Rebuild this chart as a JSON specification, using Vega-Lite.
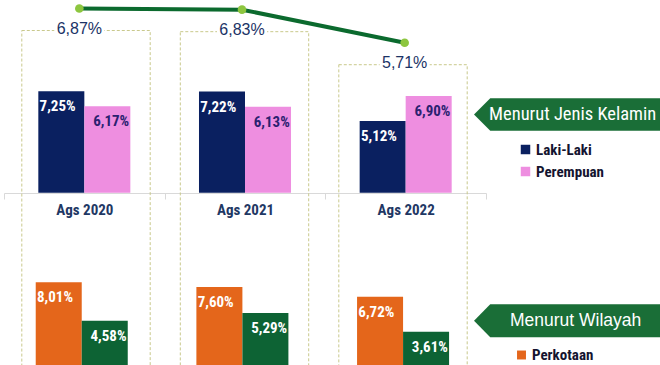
{
  "$schema": "https://vega.github.io/schema/vega-lite/v6.json",
  "width": 660,
  "height": 365,
  "autosize": {"type": "none"},
  "padding": 0,
  "background": "white",
  "config": {"view": {"stroke": null}, "font": "Liberation Sans"},
  "datasets": {
    "line": [
      {"year": "Ags 2020", "value": 6.87, "label": "6,87%"},
      {"year": "Ags 2021", "value": 6.83, "label": "6,83%"},
      {"year": "Ags 2022", "value": 5.71, "label": "5,71%"}
    ],
    "gender": [
      {"year": "Ags 2020", "sex": "Laki-Laki", "value": 7.25, "label": "7,25%"},
      {"year": "Ags 2020", "sex": "Perempuan", "value": 6.17, "label": "6,17%"},
      {"year": "Ags 2021", "sex": "Laki-Laki", "value": 7.22, "label": "7,22%"},
      {"year": "Ags 2021", "sex": "Perempuan", "value": 6.13, "label": "6,13%"},
      {"year": "Ags 2022", "sex": "Laki-Laki", "value": 5.12, "label": "5,12%"},
      {"year": "Ags 2022", "sex": "Perempuan", "value": 6.90, "label": "6,90%"}
    ],
    "region": [
      {"year": "Ags 2020", "area": "Perkotaan", "value": 8.01, "label": "8,01%"},
      {"year": "Ags 2020", "area": "Perdesaan", "value": 4.58, "label": "4,58%"},
      {"year": "Ags 2021", "area": "Perkotaan", "value": 7.60, "label": "7,60%"},
      {"year": "Ags 2021", "area": "Perdesaan", "value": 5.29, "label": "5,29%"},
      {"year": "Ags 2022", "area": "Perkotaan", "value": 6.72, "label": "6,72%"},
      {"year": "Ags 2022", "area": "Perdesaan", "value": 3.61, "label": "3,61%"}
    ]
  },
  "resolve": {
    "scale": {"x": "independent", "y": "independent", "xOffset": "independent", "color": "independent"},
    "axis": {"x": "independent", "y": "independent"},
    "legend": {"color": "independent"}
  },
  "layer": [
    {
      "data": {"name": "line"},
      "mark": {"type": "bar", "fillOpacity": 0, "stroke": "#c9c98c", "strokeWidth": 1, "strokeDash": [3, 2], "width": {"band": 0.81}, "yOffset": 22, "clip": true},
      "encoding": {
        "x": {"field": "year", "type": "nominal", "axis": null, "scale": {"type": "band", "domain": ["Ags 2020", "Ags 2021", "Ags 2022"], "range": [6.75, 482.25], "paddingInner": 0, "paddingOuter": 0}},
        "y": {"field": "value", "type": "quantitative", "axis": null, "scale": {"domain": [-5.215, 7.158], "zero": false, "nice": false}},
        "y2": {"datum": -7}
      }
    },
    {
      "data": {"name": "line"},
      "mark": {"type": "tick", "fill": "white", "color": "white", "opacity": 1, "size": 50, "thickness": 4, "yOffset": 22},
      "encoding": {
        "x": {"field": "year", "type": "nominal", "axis": null, "scale": {"type": "band", "domain": ["Ags 2020", "Ags 2021", "Ags 2022"], "range": [-2, 486], "paddingInner": 0, "paddingOuter": 0}},
        "y": {"field": "value", "type": "quantitative", "axis": null, "scale": {"domain": [-5.215, 7.158], "zero": false, "nice": false}}
      }
    },
    {
      "data": {"name": "line"},
      "mark": {"type": "line", "color": "#0b6a2e", "strokeWidth": 4},
      "encoding": {
        "x": {"field": "year", "type": "nominal", "axis": null, "scale": {"type": "band", "domain": ["Ags 2020", "Ags 2021", "Ags 2022"], "range": [-2, 486], "paddingInner": 0, "paddingOuter": 0}},
        "y": {"field": "value", "type": "quantitative", "axis": null, "scale": {"domain": [-5.215, 7.158], "zero": false, "nice": false}}
      }
    },
    {
      "data": {"name": "line"},
      "mark": {"type": "circle", "color": "#8dc63f", "opacity": 1, "size": 75},
      "encoding": {
        "x": {"field": "year", "type": "nominal", "axis": null, "scale": {"type": "band", "domain": ["Ags 2020", "Ags 2021", "Ags 2022"], "range": [-2, 486], "paddingInner": 0, "paddingOuter": 0}},
        "y": {"field": "value", "type": "quantitative", "axis": null, "scale": {"domain": [-5.215, 7.158], "zero": false, "nice": false}}
      }
    },
    {
      "data": {"name": "line"},
      "mark": {"type": "text", "color": "#1b3366", "fontSize": 16, "font": "Liberation Sans", "dy": 20.5, "baseline": "middle"},
      "encoding": {
        "x": {"field": "year", "type": "nominal", "axis": null, "scale": {"type": "band", "domain": ["Ags 2020", "Ags 2021", "Ags 2022"], "range": [-2, 486], "paddingInner": 0, "paddingOuter": 0}},
        "y": {"field": "value", "type": "quantitative", "axis": null, "scale": {"domain": [-5.215, 7.158], "zero": false, "nice": false}},
        "text": {"field": "label"}
      }
    },
    {
      "data": {"name": "gender"},
      "mark": {"type": "bar"},
      "encoding": {
        "x": {"field": "year", "type": "nominal", "scale": {"type": "band", "domain": ["Ags 2020", "Ags 2021", "Ags 2022"], "range": [4, 486], "paddingInner": 0, "paddingOuter": 0},
          "axis": {"title": null, "orient": "bottom", "offset": -172, "domainColor": "#d9d9d9", "tickColor": "#d9d9d9", "tickBand": "extent", "tickSize": 6, "labelAngle": 0, "labelFont": "Roboto Condensed, Liberation Sans Narrow, DejaVu Sans Condensed, Arial Narrow, sans-serif", "labelFontWeight": "bold", "labelFontSize": 15, "labelColor": "#1f3864", "labelPadding": 3}},
        "xOffset": {"field": "sex", "type": "nominal", "scale": {"type": "band", "domain": ["Laki-Laki", "Perempuan"], "paddingInner": 0, "paddingOuter": 0.746}},
        "y": {"field": "value", "type": "quantitative", "axis": null, "scale": {"domain": [-12.31, 13.76], "zero": false, "nice": false}},
        "y2": {"datum": 0},
        "color": {"field": "sex", "type": "nominal", "scale": {"domain": ["Laki-Laki", "Perempuan"], "range": ["#0a2060", "#ee8ee0"]},
          "legend": {"title": null, "orient": "none", "legendX": 518, "legendY": 142, "symbolType": "square", "symbolSize": 90, "symbolStrokeWidth": 0, "symbolOpacity": 1, "labelFont": "Roboto Condensed, Liberation Sans Narrow, DejaVu Sans Condensed, Arial Narrow, sans-serif", "labelFontWeight": "bold", "labelFontSize": 15, "labelColor": "#141430", "labelOffset": 3, "rowPadding": 6, "padding": 0}}
      }
    },
    {
      "data": {"name": "gender"},
      "mark": {"type": "text", "fontSize": 15, "fontWeight": "bold", "font": "Roboto Condensed, Liberation Sans Narrow, DejaVu Sans Condensed, Arial Narrow, sans-serif", "dy": 15, "baseline": "middle"},
      "encoding": {
        "x": {"field": "year", "type": "nominal", "axis": null, "scale": {"type": "band", "domain": ["Ags 2020", "Ags 2021", "Ags 2022"], "range": [4, 486], "paddingInner": 0, "paddingOuter": 0}},
        "xOffset": {"field": "sex", "type": "nominal", "scale": {"type": "point", "domain": ["Laki-Laki", "Perempuan"], "padding": 1.246}},
        "y": {"field": "value", "type": "quantitative", "axis": null, "scale": {"domain": [-12.31, 13.76], "zero": false, "nice": false}},
        "text": {"field": "label"},
        "color": {"condition": {"test": "datum.sex === 'Laki-Laki'", "value": "white"}, "value": "#2b2170"}
      }
    },
    {
      "data": {"name": "region"},
      "mark": {"type": "bar", "clip": true},
      "encoding": {
        "x": {"field": "year", "type": "nominal", "axis": null, "scale": {"type": "band", "domain": ["Ags 2020", "Ags 2021", "Ags 2022"], "range": [1.4, 483.4], "paddingInner": 0, "paddingOuter": 0}},
        "xOffset": {"field": "area", "type": "nominal", "scale": {"type": "band", "domain": ["Perkotaan", "Perdesaan"], "paddingInner": 0, "paddingOuter": 0.746}},
        "y": {"field": "value", "type": "quantitative", "axis": null, "scale": {"domain": [0.658, 33.1], "zero": false, "nice": false}},
        "y2": {"datum": 0},
        "color": {"field": "area", "type": "nominal", "scale": {"domain": ["Perkotaan", "Perdesaan"], "range": ["#e4661b", "#0d6334"]},
          "legend": {"title": null, "orient": "none", "legendX": 514, "legendY": 347.5, "symbolType": "square", "symbolSize": 80, "symbolStrokeWidth": 0, "symbolOpacity": 1, "labelFont": "Roboto Condensed, Liberation Sans Narrow, DejaVu Sans Condensed, Arial Narrow, sans-serif", "labelFontWeight": "bold", "labelFontSize": 15, "labelColor": "#141430", "labelOffset": 3, "rowPadding": 25, "padding": 0}}
      }
    },
    {
      "data": {"name": "region"},
      "mark": {"type": "text", "fontSize": 15, "fontWeight": "bold", "font": "Roboto Condensed, Liberation Sans Narrow, DejaVu Sans Condensed, Arial Narrow, sans-serif", "dy": 15, "baseline": "middle", "color": "white"},
      "encoding": {
        "x": {"field": "year", "type": "nominal", "axis": null, "scale": {"type": "band", "domain": ["Ags 2020", "Ags 2021", "Ags 2022"], "range": [1.4, 483.4], "paddingInner": 0, "paddingOuter": 0}},
        "xOffset": {"field": "area", "type": "nominal", "scale": {"type": "point", "domain": ["Perkotaan", "Perdesaan"], "padding": 1.246}},
        "y": {"field": "value", "type": "quantitative", "axis": null, "scale": {"domain": [0.658, 33.1], "zero": false, "nice": false}},
        "text": {"field": "label"}
      }
    },
    {
      "data": {"values": [{"column": "Legenda", "panel": "Menurut Jenis Kelamin"}]},
      "layer": [
        {
          "mark": {"type": "point", "shape": "M-1,0L-0.825,-0.175L1.1,-0.175L1.1,0.175L-0.825,0.175Z", "size": 34300, "filled": true, "color": "#1a6e37", "opacity": 1, "strokeWidth": 0}
        },
        {
          "mark": {"type": "text", "color": "white", "fontSize": 18.5, "font": "Roboto Condensed, Liberation Sans Narrow, DejaVu Sans Condensed, Arial Narrow, sans-serif", "dx": 6, "baseline": "middle"},
          "encoding": {"text": {"field": "panel"}}
        }
      ],
      "encoding": {
        "x": {"field": "column", "type": "nominal", "axis": null, "scale": {"type": "band", "domain": ["Ags 2020", "Ags 2021", "Ags 2022", "Legenda"], "range": [4, 647], "paddingInner": 0, "paddingOuter": 0}},
        "y": {"datum": 5.586, "type": "quantitative", "axis": null, "scale": {"domain": [-12.31, 13.76], "zero": false, "nice": false}}
      }
    },
    {
      "data": {"values": [{"column": "Legenda", "panel": "Menurut Wilayah"}]},
      "layer": [
        {
          "mark": {"type": "point", "shape": "M-1,0L-0.825,-0.178L1.1,-0.178L1.1,0.178L-0.825,0.178Z", "size": 34300, "filled": true, "color": "#1a6e37", "opacity": 1, "strokeWidth": 0}
        },
        {
          "mark": {"type": "text", "color": "white", "fontSize": 17.5, "font": "Liberation Sans", "dx": 9, "baseline": "middle"},
          "encoding": {"text": {"field": "panel"}}
        }
      ],
      "encoding": {
        "x": {"field": "column", "type": "nominal", "axis": null, "scale": {"type": "band", "domain": ["Ags 2020", "Ags 2021", "Ags 2022", "Legenda"], "range": [4, 647], "paddingInner": 0, "paddingOuter": 0}},
        "y": {"datum": 4.596, "type": "quantitative", "axis": null, "scale": {"domain": [0.658, 33.1], "zero": false, "nice": false}}
      }
    }
  ]
}
